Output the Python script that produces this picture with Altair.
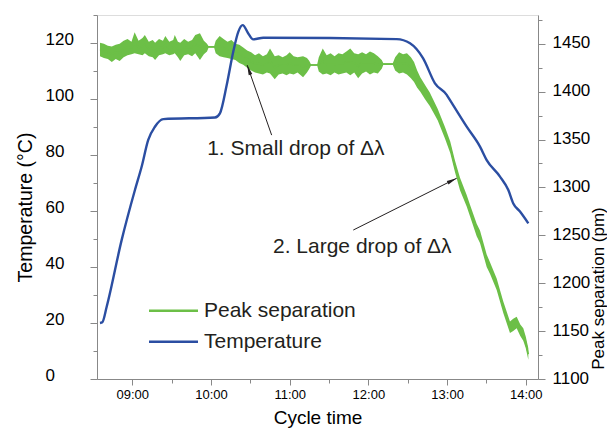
import altair as alt
import pandas as pd

# ---------------- data ----------------
# Temperature (°C) vs cycle time (decimal hours)
t_time = [8.590, 8.620, 8.675, 8.865, 9.034, 9.119, 9.203, 9.288, 9.394, 10.051,
          10.114, 10.200, 10.283, 10.347, 10.403, 10.474, 10.537, 10.665, 12.360,
          12.529, 12.694, 12.846, 12.995, 13.037, 13.249, 13.418, 13.503, 13.672,
          13.778, 13.841, 13.926, 14.032]
t_temp = [20.0, 20.3, 25.8, 49.6, 67.5, 75.8, 85.4, 90.1, 92.8, 93.4,
          94.9, 105.0, 116.9, 124.0, 126.4, 123.4, 121.3, 121.9, 121.4,
          119.9, 114.6, 105.6, 101.5, 99.6, 90.1, 83.0, 78.2, 72.3,
          67.5, 62.7, 59.8, 55.6]

# Peak separation (pm): lower / upper edge of the noisy green band
p_time = [8.59, 8.64, 8.69, 8.74, 8.79, 8.84, 8.89, 8.94, 8.99, 9.03,
          9.08, 9.13, 9.16, 9.21, 9.26, 9.29, 9.34, 9.39, 9.42, 9.47,
          9.52, 9.54, 9.58, 9.61, 9.66, 9.71, 9.76, 9.80, 9.86, 9.91,
          9.95, 9.97, 10.04,
          10.06, 10.11, 10.16, 10.21, 10.26, 10.31, 10.36, 10.41, 10.46, 10.51,
          10.56, 10.61, 10.66, 10.71, 10.75, 10.81, 10.86, 10.91, 10.96, 11.00,
          11.05, 11.10, 11.17, 11.22, 11.25, 11.27, 11.35,
          11.37, 11.42, 11.47, 11.52, 11.57, 11.62, 11.67, 11.72, 11.77, 11.82,
          11.87, 11.92, 11.97, 12.02, 12.07, 12.12, 12.17, 12.19, 12.31,
          12.34, 12.39, 12.44, 12.49, 12.54, 12.58, 12.62, 12.66, 12.72, 12.78,
          12.88, 12.973, 13.04, 13.10, 13.164, 13.249, 13.291, 13.376, 13.418, 13.503,
          13.545, 13.63, 13.714, 13.799, 13.84, 13.884, 13.93, 13.968, 14.00, 14.032]
p_lo = [1437, 1435, 1434, 1431, 1434, 1432, 1436, 1438, 1439, 1440,
        1439, 1438, 1440, 1437, 1436, 1433, 1438, 1439, 1440, 1438,
        1439, 1440, 1436, 1432, 1438, 1439, 1437, 1440, 1433, 1439,
        1442, 1446, 1446,
        1440, 1437, 1436, 1435, 1434, 1433, 1430, 1428, 1425, 1422,
        1420, 1419, 1418, 1420, 1419, 1413, 1418, 1419, 1417, 1419,
        1418, 1420, 1415, 1420, 1424, 1427, 1427,
        1421, 1418, 1419, 1417, 1420, 1418, 1419, 1420, 1417, 1420,
        1414, 1419, 1421, 1418, 1420, 1419, 1424, 1428, 1428,
        1422, 1419, 1420, 1418, 1414, 1410, 1404, 1400, 1392, 1385,
        1370, 1351, 1336, 1316, 1297, 1280, 1270, 1249, 1242, 1217,
        1210, 1193, 1169, 1148, 1150, 1153, 1145, 1140, 1132, 1120]
p_hi = [1451, 1450, 1448, 1447, 1449, 1450, 1453, 1455, 1452, 1462,
        1453, 1456, 1459, 1452, 1454, 1451, 1455, 1453, 1458, 1452,
        1454, 1459, 1452, 1451, 1455, 1452, 1454, 1459, 1461, 1453,
        1450, 1447.5, 1447.5,
        1453, 1458, 1455, 1452, 1454, 1450, 1449, 1446, 1443, 1441,
        1438, 1440, 1437, 1439, 1445, 1437, 1438, 1436, 1438, 1441,
        1437, 1436, 1437, 1435, 1432, 1428.5, 1428.5,
        1436, 1445, 1438, 1440, 1437, 1440, 1439, 1442, 1445, 1440,
        1439, 1441, 1439, 1442, 1440, 1437, 1433, 1429.5, 1429.5,
        1436, 1441, 1439, 1440, 1436, 1431, 1422, 1415, 1407, 1399,
        1382, 1363, 1348, 1328, 1310, 1292, 1282, 1262, 1255, 1230,
        1222, 1205, 1181, 1160, 1163, 1165, 1157, 1153, 1144, 1132]

# axis tick values
x_ticks = [9, 9.5, 10, 10.5, 11, 11.5, 12, 12.5, 13, 13.5, 14]
left_ticks = list(range(0, 131, 10))
right_ticks = list(range(1100, 1476, 25))

# annotations (text, anchor time, anchor temperature)
ann_text = ["1. Small drop of \u0394\u03bb", "2. Large drop of \u0394\u03bb"]
ann_time = [9.952, 10.788]
ann_temp = [80.0, 45.0]
# arrows: tail (time, temp) -> tip (time, temp)
arr_t0 = [10.771, 11.808]
arr_y0 = [87.1, 53.2]
arr_t1 = [10.460, 13.122]
arr_y1 = [112.1, 71.7]
arr_angle = [340.8, 63.4]

legend_labels = ["Peak separation", "Temperature"]

# ---------------- styling ----------------
GREEN = "#6CBF47"
BLUE = "#2B4EA2"
TXT = "#231F20"
FONT = "Liberation Sans"
X_DOMAIN = [8.552, 14.155]
W, H = 441, 364

temp_df = pd.DataFrame({"hours": t_time, "temp": t_temp})
ps_df = pd.DataFrame({"hours": p_time, "ps_lo": p_lo, "ps_hi": p_hi,
                      "ps": [(a + b) / 2 for a, b in zip(p_lo, p_hi)]})
ann_df = pd.DataFrame({"label": ann_text, "hours": ann_time, "temp": ann_temp})
arr_df = pd.DataFrame({"hours": arr_t0, "temp": arr_y0, "hours2": arr_t1,
                       "temp2": arr_y1})
tip_df = pd.DataFrame({"hours": arr_t1, "temp": arr_y1, "ang": arr_angle})

x_axis = alt.Axis(
    values=x_ticks, grid=False, title="Cycle time",
    labelExpr="datum.value % 1 == 0 ? (datum.value < 10 ? '0' : '') + datum.value + ':00' : ''",
    labelFontSize=13, labelPadding=3, labelOverlap=False, labelFlush=False,
    tickSize={"condition": {"test": "datum.value % 1 == 0", "value": 6}, "value": 4},
    titleFontSize=19, titleFontWeight="normal", titleY=44, titleBaseline="alphabetic",
)
x_enc = alt.X("hours:Q", scale=alt.Scale(domain=X_DOMAIN, nice=False, zero=False), axis=x_axis)

left_axis = alt.Axis(
    values=left_ticks, grid=False, orient="left", title="Temperature (\u00b0C)",
    labelExpr="datum.value % 20 == 0 ? datum.label : ''",
    labelFontSize=17, labelPadding=45, labelAlign="left", labelOffset=-4,
    labelOverlap=False, labelFlush=False,
    tickSize={"condition": {"test": "datum.value % 20 == 0", "value": 7}, "value": 4},
    titleFontSize=19.5, titleFontWeight="normal", titleAngle=270, titleX=-72, titleY=192,
    titleAlign="center", titleBaseline="middle",
)
y_temp_scale = alt.Scale(domain=[0, 130], nice=False, zero=False)

right_axis = alt.Axis(
    values=right_ticks, grid=False, orient="right", title="Peak separation (pm)",
    format="d",
    labelExpr="datum.value % 50 == 0 ? datum.label : ''",
    labelFontSize=17, labelPadding=7, labelOffset=-1, labelOverlap=False, labelFlush=False,
    tickSize={"condition": {"test": "datum.value % 50 == 0", "value": 7}, "value": 4},
    titleFontSize=17, titleFontWeight="normal", titleAngle=270, titleX=60, titleY=273,
    titleAlign="center", titleBaseline="middle",
)
y_ps_scale = alt.Scale(domain=[1100, 1480], nice=False, zero=False)

# ---------------- peak separation (right axis) ----------------
ps_area = alt.Chart(ps_df).mark_area(color=GREEN, opacity=1).encode(
    x=x_enc,
    y=alt.Y("ps_lo:Q", scale=y_ps_scale, axis=right_axis),
    y2="ps_hi:Q",
)
ps_line = alt.Chart(ps_df).mark_line(color=GREEN, strokeWidth=1.6).encode(
    x=x_enc,
    y=alt.Y("ps:Q", scale=y_ps_scale, axis=right_axis),
)
ps_layer = alt.layer(ps_area, ps_line)

# ---------------- temperature (left axis) + annotations ----------------
temp_line = alt.Chart(temp_df).mark_line(color=BLUE, strokeWidth=2.4, interpolate="monotone").encode(
    x=x_enc,
    y=alt.Y("temp:Q", scale=y_temp_scale, axis=left_axis),
)
arrows = alt.Chart(arr_df).mark_rule(color=TXT, strokeWidth=1).encode(
    x=x_enc,
    y=alt.Y("temp:Q", scale=y_temp_scale, axis=left_axis),
    x2="hours2:Q", y2="temp2:Q",
)
tips = alt.Chart(tip_df).mark_point(
    shape="M0,0L-0.3,1.6L0.3,1.6Z", filled=True, color=TXT, opacity=1, size=160,
).encode(
    x=x_enc,
    y=alt.Y("temp:Q", scale=y_temp_scale, axis=left_axis),
    angle=alt.Angle("ang:Q", scale=None),
)
ann = alt.Chart(ann_df).mark_text(
    align="left", baseline="alphabetic", font=FONT, fontSize=21, color=TXT,
).encode(
    x=x_enc,
    y=alt.Y("temp:Q", scale=y_temp_scale, axis=left_axis),
    text="label:N",
)

leg_layers = []
for i, (lab, col) in enumerate(zip(legend_labels, [GREEN, BLUE])):
    ypix = 295.7 + 31 * i
    sub = pd.DataFrame({"label": [lab]})
    leg_layers.append(
        alt.Chart(sub).mark_rule(color=col, strokeWidth=2.6).encode(
            x=alt.value(52), x2=alt.value(101), y=alt.value(ypix)
        )
    )
    leg_layers.append(
        alt.Chart(sub).mark_text(
            align="left", baseline="middle", font=FONT, fontSize=21, color=TXT
        ).encode(x=alt.value(107), y=alt.value(ypix), text="label:N")
    )

temp_layer = alt.layer(temp_line, arrows, tips, ann, *leg_layers)

chart = (
    alt.layer(ps_layer, temp_layer)
    .resolve_scale(y="independent")
    .properties(
        width=W, height=H,
        autosize=alt.AutoSizeParams(type="none"),
        padding={"left": 89, "top": 7, "right": 69, "bottom": 52},
    )
    .configure_view(stroke=None)
    .configure_axis(
        labelFont=FONT, titleFont=FONT, labelColor=TXT, titleColor=TXT,
        titleFontWeight="normal", domainColor="#333333", tickColor="#333333",
        domainWidth=1.2, tickWidth=1.2,
    )
    .configure(background="white")
)

chart.save("out.html", embed_options={"renderer": "svg", "actions": False})
